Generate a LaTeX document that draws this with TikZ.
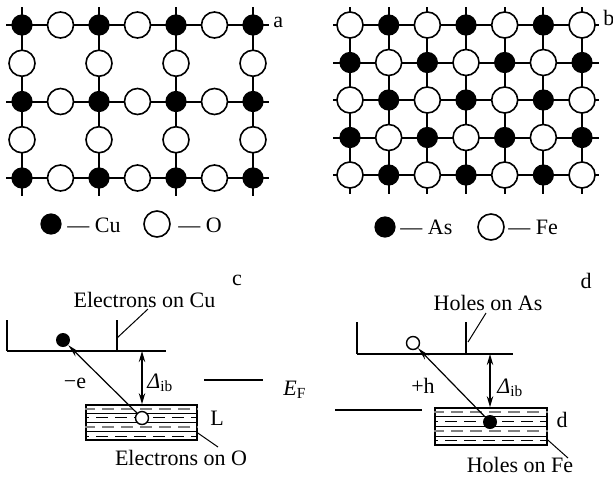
\documentclass[tikz,border=0pt]{standalone}
\usepackage{fontspec}
\setmainfont{Liberation Serif}
\usetikzlibrary{arrows.meta,calc}

\begin{document}
\begin{tikzpicture}[x=0.5pt,y=-0.5pt,
  lab/.style={font=\fontsize{11}{13}\selectfont,inner sep=0pt},
  dark/.style={circle,draw,fill=black,line width=0.6pt,minimum size=10pt,inner sep=0pt},
  light/.style={circle,draw,fill=white,line width=0.8pt,minimum size=13pt,inner sep=0pt},
  bond/.style={line width=1pt},
  rim/.style={line width=1.2pt},
  wall/.style={line width=0.8pt},
  ar/.style={-{Stealth[length=6.5pt,width=3pt]},line width=0.6pt},
  dar/.style={{Stealth[length=5.5pt,width=3.2pt]}-{Stealth[length=5.5pt,width=3.2pt]},line width=0.8pt},
  lead/.style={line width=0.5pt},
  band/.style={draw,line width=0.8pt,inner sep=0pt},
  sol/.style={line width=0.4pt},
  gdsh/.style={line width=0.9pt,gray,dash pattern=on 6pt off 3.5pt,dash phase=1pt},
  kdsh/.style={line width=0.5pt,dash pattern=on 6pt off 3.5pt,dash phase=4pt},
  edot/.style={circle,fill=black,minimum size=7pt,inner sep=0pt},
  hdot/.style={circle,draw,fill=white,line width=0.7pt,minimum size=6.5pt,inner sep=0pt}
]
\useasboundingbox (0,0) rectangle (613,477);

% a: CuO2 plane
\foreach \j in {0,2,4}
  \draw[bond] (6,{25+38.25*\j}) -- (269,{25+38.25*\j});
\foreach \i in {0,2,4,6}
  \draw[bond] ({22+38.5*\i},7) -- ({22+38.5*\i},196);
\foreach \i in {0,2,4,6}
  \foreach \j in {0,2,4}
    \node[dark] (a-\i-\j) at ({22+38.5*\i},{25+38.25*\j}) {};
\foreach \i in {1,3,5}
  \foreach \j in {0,2,4}
    \node[light] (a-\i-\j) at ({22+38.5*\i},{25+38.25*\j}) {};
\foreach \i in {0,2,4,6}
  \foreach \j in {1,3}
    \node[light] (a-\i-\j) at ({22+38.5*\i},{25+38.25*\j}) {};
\node[lab,anchor=base west] (la) at (273,27) {a};
% legend a
\node[dark] (kcu) at (51,224) {};
\node[lab,anchor=base west] (kcut) at (67,232) {— Cu};
\node[light] (ko) at (157,224) {};
\node[lab,anchor=base west] (kot) at (178,232) {— O};

% b: FeAs plane
\foreach \j in {0,...,4}
  \draw[bond] (333,{25+37.5*\j}) -- (599,{25+37.5*\j});
\foreach \i in {0,...,6}
  \draw[bond] ({350+38.67*\i},7) -- ({350+38.67*\i},194);
\foreach \i in {0,...,6}
  \foreach \j in {0,...,4}{
    \pgfmathtruncatemacro\odd{mod(\i+\j,2)}
    \ifnum\odd=1
      \node[dark] (b-\i-\j) at ({350+38.67*\i},{25+37.5*\j}) {};
    \else
      \node[light] (b-\i-\j) at ({350+38.67*\i},{25+37.5*\j}) {};
    \fi
  }
\node[lab,anchor=base west] (lb) at (603,25) {b};
% legend b
\node[dark] (kas) at (385,227) {};
\node[lab,anchor=base west] (kast) at (400,234) {— As};
\node[light] (kfe) at (491,227) {};
\node[lab,anchor=base west] (kfet) at (508,234) {— Fe};

% c: electrons
\node[lab,anchor=base] (lc) at (237,285) {c};
\draw[wall] (7,320) -- (7,351);
\draw[rim] (7,351) -- (117,351);
\draw[wall] (117,320) -- (117,351);
\draw[wall] (117,351) -- (166,351);
\node[lab,anchor=base] (tcu) at (144.5,307) {Electrons on Cu};
\draw[lead] (148,309) -- (117,338);
\node[band,minimum width=55.5pt,minimum height=17.5pt] (Lc) at (141.5,422.5) {};
\foreach \f/\s in {0.125/gdsh,0.25/sol,0.375/kdsh,0.5/sol,0.625/gdsh,0.75/sol,0.875/kdsh}
  \draw[\s] ($(Lc.north west)!\f!(Lc.south west)$) -- ($(Lc.north east)!\f!(Lc.south east)$);
\node[edot] (ec) at (63,340) {};
\node[hdot] (hc) at (142,418) {};
\draw[ar] (hc) -- (ec);
\coordinate (gc) at (142,351);
\draw[dar] (gc) -- (gc |- Lc.north);
\node[lab,anchor=base] (me) at (75,388) {−e};
\node[lab,anchor=base west] (dc) at (147,388) {{\itshape Δ}\textsubscript{ib}};
\node[lab,anchor=base] (tl) at (217,425) {L};
\node[lab,anchor=base] (to) at (181,465) {Electrons on O};
\coordinate (lo) at (218,447);
\draw[lead] ([yshift=-5.25pt]Lc.east) -- (lo);

% Fermi level
\draw[wall] (204,380) -- (263,380);
\node[lab,anchor=base west] (ef) at (283,395) {\textit{E}\textsubscript{F}};
\draw[wall] (335,410) -- (422,410);

% d: holes
\node[lab,anchor=base] (ld) at (586,288) {d};
\draw[wall] (357,322) -- (357,354);
\draw[rim] (357,354) -- (466,354);
\draw[wall] (466,322) -- (466,354);
\draw[wall] (466,354) -- (513,354);
\node[lab,anchor=base] (tas) at (488,310) {Holes on As};
\draw[lead] (486,313) -- (468,342);
\node[band,minimum width=56pt,minimum height=18.5pt] (Ld) at (491,426.5) {};
\foreach \f/\s in {0.125/gdsh,0.25/sol,0.375/kdsh,0.5/sol,0.625/gdsh,0.75/sol,0.875/kdsh}
  \draw[\s] ($(Ld.north west)!\f!(Ld.south west)$) -- ($(Ld.north east)!\f!(Ld.south east)$);
\node[hdot] (hd) at (413,343) {};
\node[edot] (ed) at (490,422) {};
\draw[ar] (ed) -- (hd);
\coordinate (gd) at (490,354);
\draw[dar] (gd) -- (gd |- Ld.north);
\node[lab,anchor=base] (ph) at (423,393) {+h};
\node[lab,anchor=base west] (dd) at (497,393) {{\itshape Δ}\textsubscript{ib}};
\node[lab,anchor=base] (td) at (562,427) {d};
\node[lab,anchor=base] (tfe) at (520,472) {Holes on Fe};
\coordinate (lf) at (568,458);
\draw[lead] ([yshift=-6.75pt]Ld.east) -- (lf);
\end{tikzpicture}
\end{document}
